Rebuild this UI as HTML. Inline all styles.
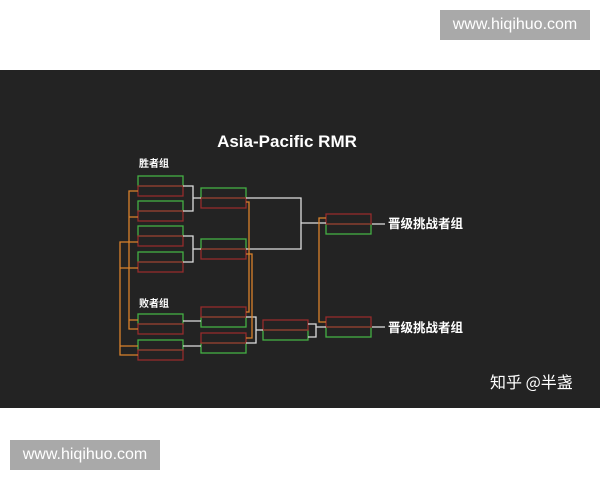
<!DOCTYPE html>
<html><head><meta charset="utf-8"><style>
body{margin:0;width:600px;height:480px;background:#fff;position:relative;overflow:hidden;font-family:"Liberation Sans","Noto Sans CJK SC",sans-serif}
.wm{position:absolute;background:#a9a9a9;color:#fff;font-size:16px;line-height:30px;text-align:center}
</style></head><body>
<div class="wm" style="left:440px;top:10px;width:150px;height:30px">www.hiqihuo.com</div>
<div class="wm" style="left:10px;top:440px;width:150px;height:30px">www.hiqihuo.com</div>
<svg style="position:absolute;left:0;top:70px" width="600" height="338" viewBox="0 70 600 338">
<rect x="0" y="70" width="600" height="338" fill="#232323"/>
<text x="287" y="147" fill="#fff" font-size="17" font-weight="bold" text-anchor="middle" font-family="Liberation Sans,sans-serif">Asia-Pacific RMR</text>
<text x="139" y="167" fill="#fff" font-size="10" font-weight="bold" font-family="Noto Sans CJK SC,sans-serif">胜者组</text>
<text x="139" y="307" fill="#fff" font-size="10" font-weight="bold" font-family="Noto Sans CJK SC,sans-serif">败者组</text>
<text x="388" y="228" fill="#fff" font-size="12.5" font-weight="bold" font-family="Noto Sans CJK SC,sans-serif">晋级挑战者组</text>
<text x="388" y="332" fill="#fff" font-size="12.5" font-weight="bold" font-family="Noto Sans CJK SC,sans-serif">晋级挑战者组</text>
<text x="490" y="388" fill="#fff" font-size="16" font-family="Noto Sans CJK SC,sans-serif">知乎 @半盏</text>
<g fill="none" stroke-width="1.3">
<g stroke="#44b044">
<rect x="138" y="176" width="45" height="10"/><rect x="138" y="201" width="45" height="10"/>
<rect x="138" y="226" width="45" height="10"/><rect x="138" y="252" width="45" height="10"/>
<rect x="201" y="188" width="45" height="10"/><rect x="201" y="239" width="45" height="10"/>
<rect x="138" y="314" width="45" height="10"/><rect x="138" y="340" width="45" height="10"/>
<rect x="201" y="317" width="45" height="10"/><rect x="201" y="343" width="45" height="10"/>
<rect x="263" y="330" width="45" height="10"/>
<rect x="326" y="224" width="45" height="10"/><rect x="326" y="327" width="45" height="10"/>
</g>
<g stroke="#952c2c">
<rect x="138" y="186" width="45" height="10"/><rect x="138" y="211" width="45" height="10"/>
<rect x="138" y="236" width="45" height="10"/><rect x="138" y="262" width="45" height="10"/>
<rect x="201" y="198" width="45" height="10"/><rect x="201" y="249" width="45" height="10"/>
<rect x="138" y="324" width="45" height="10"/><rect x="138" y="350" width="45" height="10"/>
<rect x="201" y="307" width="45" height="10"/><rect x="201" y="333" width="45" height="10"/>
<rect x="263" y="320" width="45" height="10"/>
<rect x="326" y="214" width="45" height="10"/><rect x="326" y="317" width="45" height="10"/>
</g>
<g stroke="#ddd">
<path d="M183 186H193V211H183M193 198H201"/>
<path d="M183 236H193V262H183M193 249H201"/>
<path d="M246 198H301V249H246M301 223H326"/>
<path d="M183 321H201M183 346H201"/>
<path d="M246 317H256V343H246M256 330H263"/>
<path d="M308 324H316V337H308M316 327H326"/>
<path d="M372 224H385M372 327H385"/>
</g>
<g stroke="#d9822b">
<path d="M138 191H129V329H138M129 217H138M129 320H138"/>
<path d="M138 242H120V355H138M120 268H138M120 346H138"/>
<path d="M246 202H249V312H246"/>
<path d="M246 254H252V338H246"/>
<path d="M326 218H319V322H326"/>
</g>
</g>
</svg>
</body></html>
